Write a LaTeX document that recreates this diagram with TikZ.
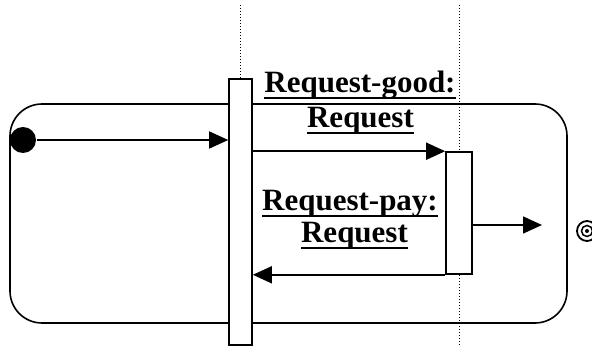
\documentclass[tikz,border=0pt]{standalone}
\usepackage{fontspec}
\setmainfont{Liberation Serif}
\usetikzlibrary{arrows.meta}
% underlined word with a heavy rule, as in UML object names
\newcommand\ulword[1]{\setbox0\hbox{#1}\rlap{\rule[-6pt]{\wd0}{2pt}}\box0}
\begin{document}
\begin{tikzpicture}[x=1pt,y=-1pt,
  line width=1.6pt,
  region/.style={draw,rounded corners=32pt,minimum width=557pt,minimum height=219pt,inner sep=0pt},
  activation/.style={draw,fill=white,inner sep=0pt},
  lifeline/.style={line width=1pt,dotted},
  msg/.style={-{Triangle[length=19pt,width=17pt]}},
  lbl/.style={anchor=base,inner sep=0pt,font=\bfseries\fontsize{31}{34}\selectfont}]
\useasboundingbox (0,0) rectangle (592,347);

% composite state region
\node[region] (region) at (288.5,213.5) {};

% lifelines
\coordinate (top1) at (240.5,5);
\coordinate (top2) at (459,5);
\coordinate (bot2) at (459,347);

% activation bars
\node[activation,minimum width=23pt,minimum height=266pt] (bar1) at (240.5,212) {};
\node[activation,minimum width=26pt,minimum height=122pt] (bar2) at (459,213) {};

\draw[lifeline] (top1) -- (bar1.north);
\draw[lifeline] (top2) -- (bar2.north);
\draw[lifeline] (bar2.south) -- (bot2);

% initial and final pseudostates
\node[circle,fill=black,minimum size=26pt,inner sep=0pt] (start) at (23,140) {};
\node[circle,draw,line width=1.8pt,minimum size=20pt,inner sep=0pt] (final) at (587,231) {};
\node[circle,draw,line width=1.5pt,minimum size=11pt,inner sep=0pt] (finalin) at (final.center) {};
\node[circle,fill=black,minimum size=4pt,inner sep=0pt] (finaldot) at (final.center) {};

% messages
\coordinate (out) at (542,225);
\draw[msg] (start) -- (start -| bar1.west);
\draw[msg] (bar1.east |- bar2.north) -- (bar2.north west);
\draw[msg] (bar2.south west) -- (bar1.east |- bar2.south);
\draw[msg] (bar2.east |- out) -- (out);

% message labels
\node[lbl] (good1) at (360,93) {\ulword{Request-good:}};
\node[lbl] (good2) at (360.5,128) {\ulword{Request}};
\node[lbl] (pay1) at (350,211) {\ulword{Request-pay:}};
\node[lbl] (pay2) at (354.5,243) {\ulword{Request}};
\end{tikzpicture}
\end{document}
